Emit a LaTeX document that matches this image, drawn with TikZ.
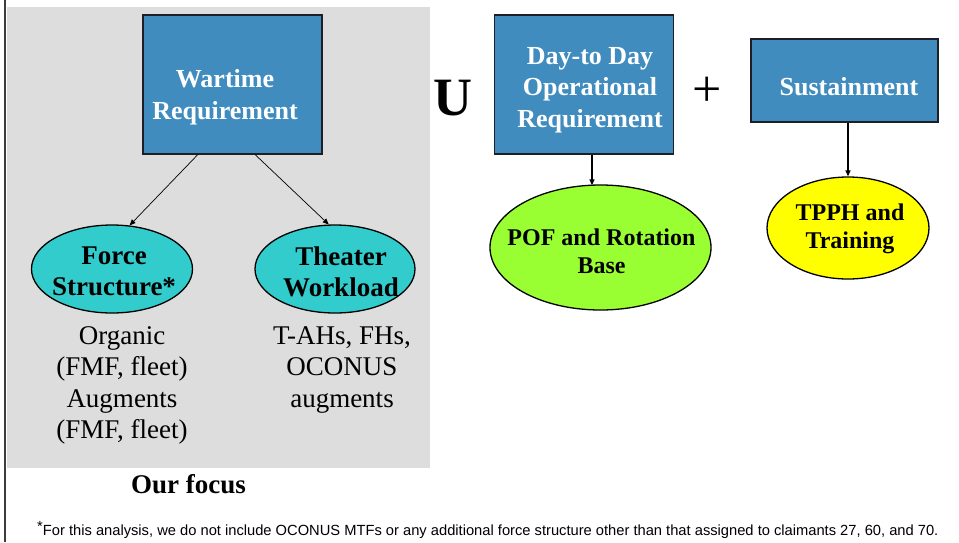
\documentclass[tikz,border=0pt]{standalone}
\usepackage{fontspec}
\setmainfont{Liberation Serif}
\newfontfamily\arialf{Liberation Sans}
\usetikzlibrary{shapes.geometric,arrows.meta,calc}
\definecolor{boxblue}{RGB}{64,140,191}
\definecolor{boxedge}{RGB}{30,30,40}
\definecolor{focusgray}{RGB}{221,221,221}
\definecolor{edgegray}{RGB}{60,60,60}
\definecolor{cyanfill}{RGB}{51,204,204}
\definecolor{greenfill}{RGB}{153,255,51}
\definecolor{yellowfill}{RGB}{255,255,0}
\tikzset{
  bluebox/.style={draw=boxedge, fill=boxblue, line width=1.4pt, inner sep=0pt},
  boxtext/.style={font=\fontsize{26}{31.5}\selectfont\bfseries, text=white, align=center, inner sep=0pt},
  ell/.style={ellipse, draw=black, line width=1.3pt, inner sep=0pt},
  elltext/.style={font=\fontsize{27}{31}\selectfont\bfseries, align=center, inner sep=0pt},
  smallell/.style={font=\fontsize{24}{28}\selectfont\bfseries, align=center, inner sep=0pt},
  plaintext/.style={font=\fontsize{27}{31.5}\selectfont, align=center, inner sep=0pt},
  opsign/.style={inner sep=0pt},
  thinarr/.style={-{Triangle[length=6pt,width=5pt]}, line width=0.7pt},
  thickarr/.style={-{Triangle[length=6pt,width=5pt]}, line width=1.4pt},
}
\begin{document}
\begin{tikzpicture}[x=1pt,y=-1pt]
\useasboundingbox (0,0) rectangle (959,542);
\fill[white] (0,0) rectangle (959,542);
\fill[focusgray] (7,7) rectangle (430,468);
\draw[edgegray, line width=2pt] (5,0) -- (5,542);

% boxes
\node[bluebox, minimum width=179pt, minimum height=139pt] (wt) at (232.5,84.5) {};
\node[boxtext] (wtt) at (225,97) {Wartime\\Requirement};
\node[bluebox, minimum width=179pt, minimum height=139pt] (dd) at (584,84.5) {};
\node[boxtext] (ddt) at (590,90) {Day-to Day\\Operational\\Requirement};
\node[bluebox, minimum width=187pt, minimum height=83pt] (sus) at (844.5,80.5) {};
\node[boxtext, anchor=base] (sust) at (849,95) {Sustainment};

% operators
\node[opsign, font=\fontsize{54}{60}\selectfont\bfseries, anchor=base] (uop) at (453,115) {U};
\node[opsign, font=\fontsize{52}{60}\selectfont] (plus) at (707,92) {+};

% ellipses
\node[ell, fill=cyanfill, minimum width=161pt, minimum height=88pt] (fs) at (112,269) {};
\node[elltext] (fst) at (114,271.5) {Force\\Structure*};
\node[ell, fill=cyanfill, minimum width=160pt, minimum height=88pt] (tw) at (335,269) {};
\node[elltext] (twt) at (341,271.5) {Theater\\Workload};
\node[ell, fill=greenfill, minimum width=221pt, minimum height=125pt] (pof) at (600.5,247.5) {};
\node[smallell] (poft) at (601.5,251) {POF and Rotation\\Base};
\node[ell, fill=yellowfill, minimum width=162pt, minimum height=102pt] (tpph) at (848,228) {};
\node[smallell] (tppht) at (850,229) {TPPH and\\Training};

% arrows
\coordinate (wl) at ($(wt.south west)!0.307!(wt.south east)$);
\coordinate (wr) at ($(wt.south west)!0.626!(wt.south east)$);
\draw[thinarr] (wl) -- (fs.68);
\draw[thinarr] (wr) -- (tw.98);
\coordinate (dx) at (592,154);
\draw[thickarr] (dd.south -| dx) -- ($(pof.north -| dx)+(0,1)$);
\draw[thickarr] (sus.south -| tpph.north) -- (tpph.north);

% texts
\node[plaintext] (org) at (122,385.5) {Organic\\(FMF, fleet)\\Augments\\(FMF, fleet)};
\node[plaintext] (thr) at (342,369.5) {T-AHs, FHs,\\OCONUS\\augments};
\node[inner sep=0pt, font=\fontsize{27}{31}\selectfont\bfseries, anchor=base] (focus) at (188.5,493) {Our focus};
\node[inner sep=0pt, anchor=base west, font=\fontsize{14.7}{16}\arialf] (fn) at (37,535) {\raisebox{3.5pt}{*}For this analysis, we do not include OCONUS MTFs or any additional force structure other than that assigned to claimants 27, 60, and 70.};
\end{tikzpicture}
\end{document}
